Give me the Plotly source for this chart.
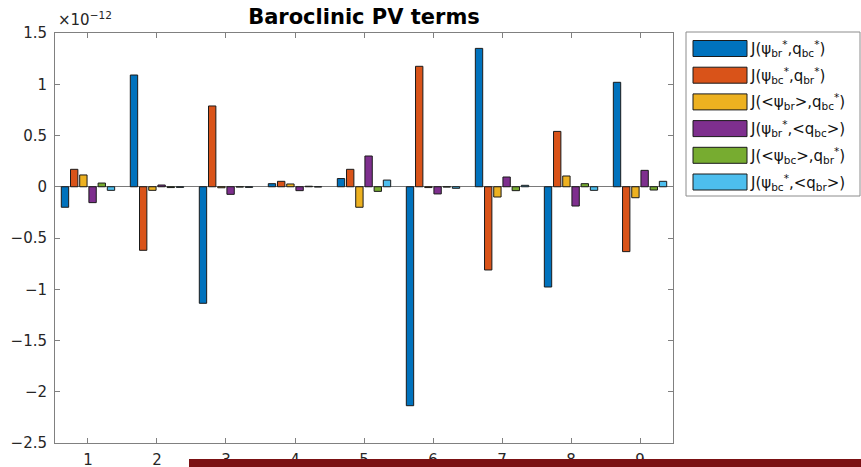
import plotly.graph_objects as go

# ---------------- data (units of 1e-12) ----------------
groups = [1, 2, 3, 4, 5, 6, 7, 8, 9]
series_names = [
    "J(ψ<sub>br</sub><sup>*</sup>,q<sub>bc</sub><sup>*</sup>)",
    "J(ψ<sub>bc</sub><sup>*</sup>,q<sub>br</sub><sup>*</sup>)",
    "J(&lt;ψ<sub>br</sub>&gt;,q<sub>bc</sub><sup>*</sup>)",
    "J(ψ<sub>br</sub><sup>*</sup>,&lt;q<sub>bc</sub>&gt;)",
    "J(&lt;ψ<sub>bc</sub>&gt;,q<sub>br</sub><sup>*</sup>)",
    "J(ψ<sub>bc</sub><sup>*</sup>,&lt;q<sub>br</sub>&gt;)",
]
s1 = [-0.20, 1.09, -1.137, 0.030, 0.080, -2.136, 1.350, -0.978, 1.019]
s2 = [0.170, -0.620, 0.788, 0.053, 0.170, 1.175, -0.812, 0.540, -0.633]
s3 = [0.115, -0.035, -0.010, 0.027, -0.200, -0.008, -0.100, 0.105, -0.107]
s4 = [-0.155, 0.017, -0.074, -0.038, 0.300, -0.070, 0.095, -0.188, 0.160]
s5 = [0.036, -0.008, -0.003, 0.005, -0.045, -0.003, -0.038, 0.030, -0.032]
s6 = [-0.035, -0.006, -0.006, -0.002, 0.065, -0.015, 0.014, -0.035, 0.053]
series_values = [s1, s2, s3, s4, s5, s6]
colors = ["#0072BD", "#D95319", "#EDB120", "#7E2F8E", "#77AC30", "#4DBEEE"]
y_ticks = [-2.5, -2, -1.5, -1, -0.5, 0, 0.5, 1, 1.5]
y_ticklabels = ["−2.5", "−2", "−1.5", "−1", "−0.5", "0", "0.5", "1", "1.5"]
title_text = "Baroclinic PV terms"
exponent_text = "×10<sup>−12</sup>"

# ---------------- layout geometry (pixels) ----------------
W_FIG, H_FIG = 861, 467
L, R_EDGE, T, B = 55, 673, 33, 443
PW, PH = R_EDGE - L, B - T


def px(x):
    return (x - L) / PW


def py(y):
    return (B - y) / PH


FONT = "DejaVu Sans"
AXC = "#808080"
TXT = "#262626"

fig = go.Figure()
for name, vals, col in zip(series_names, series_values, colors):
    fig.add_trace(go.Bar(
        x=groups, y=vals, name=name, showlegend=False,
        marker=dict(color=col, line=dict(color="#1a1a1a", width=1)),
    ))

shapes = []
annotations = []

# legend (manual, MATLAB style)
shapes.append(dict(type="rect", xref="paper", yref="paper",
                   x0=px(686), x1=px(860), y0=py(32), y1=py(196),
                   line=dict(color="#8c8c8c", width=1), fillcolor="white", layer="above"))
for i, (name, col) in enumerate(zip(series_names, colors)):
    cy = 48.5 + 26.7 * i
    shapes.append(dict(type="rect", xref="paper", yref="paper",
                       x0=px(693), x1=px(747), y0=py(cy - 8), y1=py(cy + 8),
                       line=dict(color="#1a1a1a", width=1), fillcolor=col, layer="above"))
    annotations.append(dict(xref="paper", yref="paper", x=px(748), y=py(cy),
                            xanchor="left", yanchor="middle", showarrow=False,
                            text=name, font=dict(family=FONT, size=15, color="#111")))

# exponent label
annotations.append(dict(xref="paper", yref="paper", x=px(56), y=py(31),
                        xanchor="left", yanchor="bottom", showarrow=False,
                        text=exponent_text, font=dict(family=FONT, size=15, color=TXT)))

# dark red band at bottom
shapes.append(dict(type="rect", xref="paper", yref="paper",
                   x0=px(189), x1=px(861), y0=py(459), y1=py(467.5),
                   line=dict(width=0), fillcolor="#7b1113", layer="above"))

fig.update_layout(
    width=W_FIG, height=H_FIG,
    margin=dict(l=L, r=W_FIG - R_EDGE, t=T, b=H_FIG - B, pad=0, autoexpand=False),
    paper_bgcolor="white", plot_bgcolor="white",
    barmode="group", bargap=0.2, bargroupgap=0.2,
    title=dict(text="<b>" + title_text + "</b>", x=px(364), xref="paper", xanchor="center",
               y=1 - 17 / H_FIG, yanchor="middle", yref="container",
               font=dict(family=FONT, size=21, color="#000")),
    font=dict(family=FONT, size=15, color=TXT),
    shapes=shapes, annotations=annotations,
    showlegend=False,
)
fig.update_xaxes(range=[0.522, 9.478], tickvals=groups, ticktext=[str(g) for g in groups],
                 showline=True, linecolor=AXC, linewidth=1, mirror="ticks", automargin=False,
                 ticks="inside", ticklen=5, tickcolor=AXC, showgrid=False, zeroline=False,
                 ticklabelstandoff=3,
                 tickfont=dict(family=FONT, size=15, color=TXT))
fig.update_yaxes(range=[-2.5, 1.5], tickvals=y_ticks, ticktext=y_ticklabels,
                 showline=True, linecolor=AXC, linewidth=1, mirror="ticks", automargin=False,
                 ticks="inside", ticklen=5, tickcolor=AXC, showgrid=False,
                 zeroline=True, zerolinecolor="#7a7a7a", zerolinewidth=1,
                 ticklabelstandoff=4,
                 tickfont=dict(family=FONT, size=15, color=TXT))

fig.write_html("out.html")
